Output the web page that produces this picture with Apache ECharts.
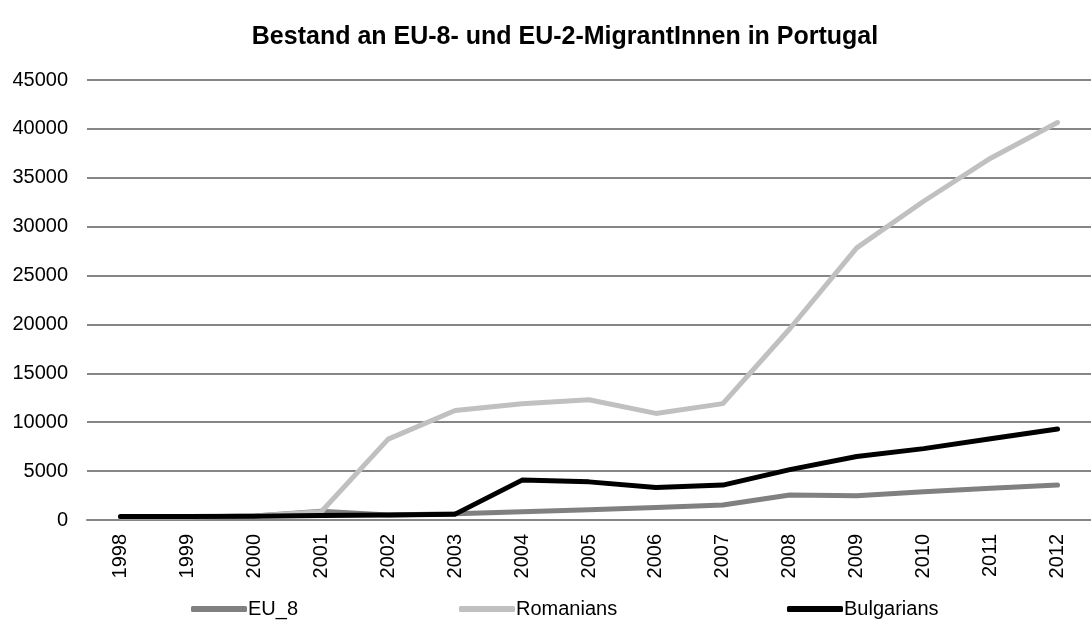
<!DOCTYPE html>
<html>
<head>
<meta charset="utf-8">
<script src="https://cdn.jsdelivr.net/npm/echarts@6/dist/echarts.min.js"></script>
<style>
  html, body { margin: 0; padding: 0; background: #fff; }
  #chart { width: 1091px; height: 633px; }
</style>
</head>
<body>
<div id="chart"></div>
<script>
var years = ['1998', '1999', '2000', '2001', '2002', '2003', '2004', '2005',
             '2006', '2007', '2008', '2009', '2010', '2011', '2012'];
var eu8 = [300, 300, 400, 900, 500, 650, 850, 1050, 1290, 1530, 2550, 2490, 2900, 3250, 3570];
var romanians = [300, 300, 400, 850, 8270, 11200, 11900, 12300, 10900, 11900, 19560, 27830, 32600, 37000, 40650];
var bulgarians = [350, 350, 380, 450, 500, 600, 4080, 3900, 3330, 3570, 5150, 6500, 7300, 8300, 9300];
var yTicks = [0, 45000, 5000]; // min, max, interval

var font = 'Liberation Sans, Arial, sans-serif';

var chart = echarts.init(document.getElementById('chart'));

//一条线的样式
function lineSeries(name, data, color) {
    return {
        name: name,
        type: 'line',
        data: data,
        symbol: 'none',
        lineStyle: { color: color, width: 5, cap: 'round', join: 'round' },
        itemStyle: { color: color },
        animation: false
    };
}

//每个图例单独摆放
function legendAt(left, name) {
    return {
        left: left,
        top: 594,
        data: [name],
        icon: 'roundRect',
        itemWidth: 56,
        itemHeight: 6,
        itemGap: 0,
        textStyle: { fontFamily: font, fontSize: 20, color: '#000', padding: [0, 0, 0, -4] }
    };
}

var option = {
    backgroundColor: '#fff',
    title: {
        text: 'Bestand an EU-8- und EU-2-MigrantInnen in Portugal',
        left: 560,
        textAlign: 'center',
        top: 20,
        textStyle: { fontFamily: font, fontSize: 25, fontWeight: 'bold', color: '#000' }
    },
    legend: [
        legendAt(186, 'EU_8'),
        legendAt(454, 'Romanians'),
        legendAt(782, 'Bulgarians')
    ],
    grid: { left: 87, right: -8, top: 80, bottom: 113 },
    xAxis: {
        type: 'category',
        data: years,
        boundaryGap: true,
        axisLine: { lineStyle: { color: '#868686', width: 2 } },
        axisTick: { show: false },
        axisLabel: { rotate: 90, fontFamily: font, fontSize: 20, color: '#000', margin: 14 }
    },
    yAxis: {
        type: 'value',
        min: yTicks[0],
        max: yTicks[1],
        interval: yTicks[2],
        axisLine: { show: false },
        axisTick: { show: false },
        splitLine: { lineStyle: { color: '#868686', width: 2 } },
        axisLabel: {
            fontFamily: font, fontSize: 20, color: '#000', margin: 19,
            formatter: function (v) { return String(v); }
        }
    },
    series: [
        lineSeries('EU_8', eu8, '#808080'),
        lineSeries('Romanians', romanians, '#c0c0c0'),
        lineSeries('Bulgarians', bulgarians, '#000000')
    ]
};

chart.setOption(option);
</script>
</body>
</html>
